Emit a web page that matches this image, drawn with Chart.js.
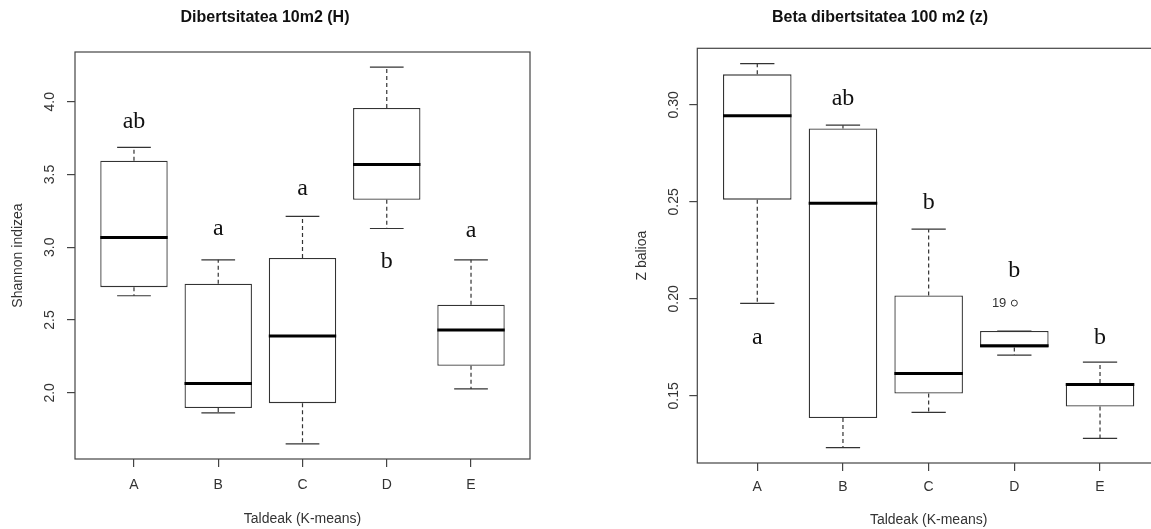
<!DOCTYPE html>
<html>
<head>
<meta charset="utf-8">
<script src="https://cdn.jsdelivr.net/npm/chart.js@4.4.1/dist/chart.umd.min.js"></script>
<style>
  html, body { margin: 0; padding: 0; background: #fff; overflow: hidden; }
  #wrap { position: relative; width: 1151px; height: 529px; overflow: hidden; background: #fff; }
  #shannonChart { position: absolute; left: 0; top: 0; }
  #zChart { position: absolute; left: 600px; top: 0; }
</style>
</head>
<body>
<div id="wrap">
  <canvas id="shannonChart" width="564" height="529"></canvas>
  <canvas id="zChart" width="598" height="529"></canvas>
</div>
<script>
// K-means groups
const groups = ['A', 'B', 'C', 'D', 'E'];

// Shannon index, 10 m2 plots: five-number summaries per group
const shannonLowWhisker  = [2.667, 1.863, 1.649, 3.129, 2.027];
const shannonQ1          = [2.726, 1.895, 1.929, 3.326, 2.186];
const shannonMedian      = [3.067, 2.064, 2.390, 3.569, 2.431];
const shannonQ3          = [3.594, 2.749, 2.926, 3.957, 2.605];
const shannonHighWhisker = [3.686, 2.914, 3.212, 4.238, 2.914];
const shannonLetters     = ['ab', 'a', 'a', 'b', 'a'];
const shannonLetterY     = [3.821, 3.086, 3.361, 2.859, 3.074];
const shannonTicks       = ['2.0', '2.5', '3.0', '3.5', '4.0'];

// Beta diversity z, 100 m2 plots
const zLowWhisker  = [0.1977, 0.1233, 0.1415, 0.1710, 0.1281];
const zQ1          = [0.2511, 0.1386, 0.1512, 0.1749, 0.1445];
const zMedian      = [0.2943, 0.2492, 0.1615, 0.1758, 0.1558];
const zQ3          = [0.3157, 0.2878, 0.2017, 0.1834, 0.1566];
const zHighWhisker = [0.3212, 0.2895, 0.2359, 0.1834, 0.1674];
const zOutlierGroup = ['D'];
const zOutlierValue = [0.1978];
const zOutlierLabel = ['19'];
const zLetters     = ['a', 'ab', 'b', 'b', 'b'];
const zLetterY     = [0.1769, 0.3000, 0.2463, 0.2113, 0.1769];
const zTicks       = ['0.15', '0.20', '0.25', '0.30'];

const SANS = '"Liberation Sans", Arial, sans-serif';
const SERIF = '"Liberation Serif", "Times New Roman", serif';
const INK = '#333';
const AXIS_FONT = 14;

// Whiskers, caps, medians, frame, rotated y labels and group letters
const boxplotExtras = {
  id: 'boxplotExtras',
  afterDatasetsDraw(chart, args, o) {
    const { ctx, chartArea: a, scales: { x, y } } = chart;
    const seg = (x1, y1, x2, y2) => { ctx.beginPath(); ctx.moveTo(x1, y1); ctx.lineTo(x2, y2); ctx.stroke(); };
    ctx.save();
    o.low.forEach((lo, i) => {
      const cx = x.getPixelForValue(i + 1);
      const capHalf = x.getPixelForValue(i + 1.2) - cx;
      const boxHalf = x.getPixelForValue(i + 1.4) - cx;
      const pLo = y.getPixelForValue(lo);
      const pHi = y.getPixelForValue(o.high[i]);
      const pQ1 = y.getPixelForValue(o.q1[i]);
      const pQ3 = y.getPixelForValue(o.q3[i]);
      const pMed = y.getPixelForValue(o.median[i]);
      ctx.strokeStyle = INK;
      ctx.lineWidth = 1.2;
      ctx.setLineDash([4, 3]);
      if (pHi < pQ3) seg(cx, pQ3, cx, pHi);
      if (pLo > pQ1) seg(cx, pQ1, cx, pLo);
      ctx.setLineDash([]);
      seg(cx - capHalf, pHi, cx + capHalf, pHi);
      seg(cx - capHalf, pLo, cx + capHalf, pLo);
      ctx.strokeStyle = '#000';
      ctx.lineWidth = 3;
      seg(cx - boxHalf, pMed, cx + boxHalf, pMed);
    });

    // plot frame
    ctx.strokeStyle = '#444';
    ctx.lineWidth = 1.2;
    ctx.strokeRect(a.left, a.top, a.right - a.left, a.bottom - a.top);

    // y tick labels, written parallel to the axis
    ctx.fillStyle = INK;
    ctx.font = AXIS_FONT + 'px ' + SANS;
    ctx.textAlign = 'center';
    ctx.textBaseline = 'middle';
    o.yTicks.forEach(t => {
      const py = y.getPixelForValue(parseFloat(t));
      ctx.save();
      ctx.translate(a.left - o.yLabelGap, py);
      ctx.rotate(-Math.PI / 2);
      ctx.fillText(t, 0, 0);
      ctx.restore();
    });

    // outlier ids
    ctx.font = '13px ' + SANS;
    ctx.textAlign = 'right';
    (o.outGroup || []).forEach((g, i) => {
      const px = x.getPixelForValue(groups.indexOf(g) + 1);
      ctx.fillText(o.outLabel[i], px - 8, y.getPixelForValue(o.outValue[i]));
    });

    // significance letters
    ctx.fillStyle = '#111';
    ctx.font = '24px ' + SERIF;
    ctx.textAlign = 'center';
    ctx.textBaseline = 'alphabetic';
    o.letters.forEach((l, i) => {
      ctx.fillText(l, x.getPixelForValue(i + 1), y.getPixelForValue(o.letterY[i]));
    });
    ctx.restore();
  }
};

function makeBoxChart(id, s) {
  const lo = Math.min(...s.low, ...(s.outValue || []));
  const hi = Math.max(...s.high, ...(s.outValue || []));
  const pad = 0.04 * (hi - lo);
  const datasets = [{
    type: 'bar',
    data: groups.map((g, i) => ({ x: i + 1, y: [s.q1[i], s.q3[i]] })),
    backgroundColor: '#fff',
    borderColor: INK,
    borderWidth: 1.3,
    borderSkipped: false,
    barPercentage: 0.8,
    categoryPercentage: 1
  }];
  if (s.outGroup) {
    datasets.push({
      type: 'scatter',
      data: s.outGroup.map((g, i) => ({ x: groups.indexOf(g) + 1, y: s.outValue[i] })),
      pointRadius: 3,
      pointBorderWidth: 1,
      pointBorderColor: INK,
      pointBackgroundColor: 'rgba(0,0,0,0)'
    });
  }
  return new Chart(document.getElementById(id), {
    type: 'bar',
    data: { datasets },
    options: {
      responsive: false,
      animation: false,
      events: [],
      layout: { padding: { left: 0, right: s.rightPad, top: 0, bottom: 0 } },
      plugins: {
        legend: { display: false },
        tooltip: { enabled: false },
        title: {
          display: true,
          text: s.title,
          color: '#111',
          font: { family: SANS, size: 16, weight: 'bold' },
          padding: { top: 8.4, bottom: s.titleGap }
        },
        boxplotExtras: s
      },
      scales: {
        x: {
          type: 'linear',
          min: 0.3,
          max: 5.7,
          offset: false,
          afterBuildTicks: sc => { sc.ticks = groups.map((g, i) => ({ value: i + 1 })); },
          afterFit: sc => { sc.height = s.xAxisHeight; },
          ticks: {
            autoSkip: false,
            maxRotation: 0,
            padding: s.xTickPad,
            color: INK,
            font: { family: SANS, size: AXIS_FONT },
            callback: (v, i) => groups[i]
          },
          grid: { display: true, offset: false, drawOnChartArea: false, drawTicks: true, tickLength: 8, color: '#444', lineWidth: 1.2 },
          border: { display: false },
          title: {
            display: true,
            text: 'Taldeak (K-means)',
            color: INK,
            font: { family: SANS, size: AXIS_FONT },
            padding: { top: 0, bottom: s.xTitlePad }
          }
        },
        y: {
          type: 'linear',
          min: lo - pad,
          max: hi + pad,
          afterBuildTicks: sc => { sc.ticks = s.yTicks.map(t => ({ value: parseFloat(t) })); },
          afterFit: sc => { sc.width = s.yAxisWidth; },
          ticks: { display: false },
          grid: { display: true, drawOnChartArea: false, drawTicks: true, tickLength: 8, color: '#444', lineWidth: 1.2 },
          border: { display: false },
          title: {
            display: true,
            text: s.yTitle,
            color: INK,
            font: { family: SANS, size: AXIS_FONT },
            padding: { top: s.yTitlePad, bottom: 0 }
          }
        }
      }
    },
    plugins: [boxplotExtras]
  });
}

makeBoxChart('shannonChart', {
  title: 'Dibertsitatea 10m2 (H)',
  yTitle: 'Shannon indizea',
  low: shannonLowWhisker, q1: shannonQ1, median: shannonMedian, q3: shannonQ3, high: shannonHighWhisker,
  letters: shannonLetters, letterY: shannonLetterY, yTicks: shannonTicks,
  rightPad: 34, titleGap: 24.4, xAxisHeight: 70, yAxisWidth: 75,
  xTickPad: 9.5, xTitlePad: 1.6, yTitlePad: 9.6, yLabelGap: 25
});

makeBoxChart('zChart', {
  title: 'Beta dibertsitatea 100 m2 (z)',
  yTitle: 'Z balioa',
  low: zLowWhisker, q1: zQ1, median: zMedian, q3: zQ3, high: zHighWhisker,
  outGroup: zOutlierGroup, outValue: zOutlierValue, outLabel: zOutlierLabel,
  letters: zLetters, letterY: zLetterY, yTicks: zTicks,
  rightPad: 38, titleGap: 20.7, xAxisHeight: 66, yAxisWidth: 97.3,
  xTickPad: 7.3, xTitlePad: 0, yTitlePad: 33.6, yLabelGap: 23.5
});
</script>
</body>
</html>
